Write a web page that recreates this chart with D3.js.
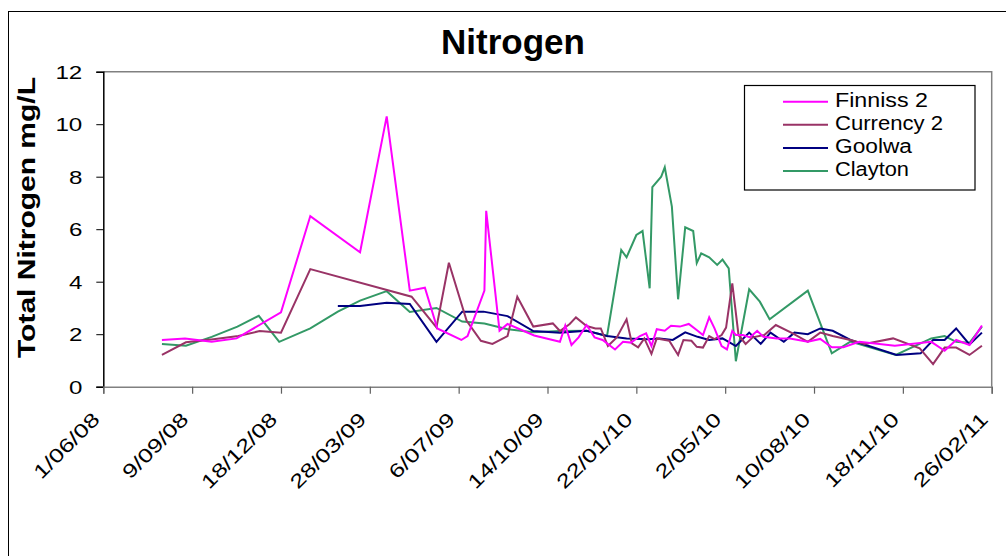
<!DOCTYPE html>
<html>
<head>
<meta charset="utf-8">
<script src="https://cdn.jsdelivr.net/npm/d3@7"></script>
<style>
  html, body { margin: 0; padding: 0; background: #fff; }
  svg { display: block; font-family: "Liberation Sans", Arial, sans-serif; }
</style>
</head>
<body>
<svg id="chart" width="1006" height="556"></svg>
<script>
// ---- data (dd/mm/yyyy sample dates, total nitrogen mg/L) ----
const seriesNames = ["Finniss 2", "Currency 2", "Goolwa", "Clayton"];
const seriesColors = ["#FF00FF", "#993366", "#000080", "#339966"];

const finnissDates = ["06/08/2008","01/09/2008","01/10/2008","29/10/2008","18/12/2008","20/01/2009","17/03/2009","16/04/2009","12/05/2009","29/05/2009","12/06/2009","09/07/2009","16/07/2009","04/08/2009","06/08/2009","21/08/2009","30/08/2009","29/09/2009","28/10/2009","03/11/2009","10/11/2009","18/11/2009","27/11/2009","06/12/2009","15/12/2009","29/12/2009","07/01/2010","16/01/2010","26/01/2010","02/02/2010","08/02/2010","14/02/2010","23/02/2010","02/03/2010","12/03/2010","22/03/2010","01/04/2010","07/04/2010","14/04/2010","20/04/2010","28/04/2010","04/05/2010","10/05/2010","14/05/2010","22/05/2010","30/05/2010","07/06/2010","14/06/2010","29/06/2010","14/07/2010","03/08/2010","17/08/2010","30/08/2010","12/09/2010","20/09/2010","30/09/2010","09/11/2010","20/12/2010","04/01/2011","17/01/2011","01/02/2011","15/02/2011"];
const finnissValues = [1.78,1.84,1.71,1.84,2.83,6.50,5.12,10.3,3.66,3.77,2.22,1.78,1.93,3.66,6.70,2.13,2.39,1.95,1.71,2.33,1.59,1.88,2.35,1.88,1.78,1.42,1.71,1.68,1.93,2.03,1.55,2.19,2.13,2.32,2.29,2.39,2.13,1.97,2.64,2.22,1.55,1.42,2.13,1.97,1.97,1.88,2.13,1.90,1.84,1.84,1.71,1.82,1.50,1.50,1.60,1.71,1.56,1.71,1.37,1.78,1.59,2.33];

const currencyDates = ["06/08/2008","02/09/2008","03/10/2008","31/10/2008","24/11/2008","18/12/2008","20/01/2009","14/05/2009","11/06/2009","25/06/2009","15/07/2009","31/07/2009","13/08/2009","30/08/2009","10/09/2009","28/09/2009","20/10/2009","28/10/2009","08/11/2009","15/11/2009","27/11/2009","07/12/2009","13/12/2009","21/12/2009","31/12/2009","11/01/2010","17/01/2010","24/01/2010","31/01/2010","08/02/2010","14/02/2010","28/02/2010","10/03/2010","16/03/2010","25/03/2010","31/03/2010","07/04/2010","14/04/2010","20/04/2010","28/04/2010","03/05/2010","10/05/2010","17/05/2010","25/05/2010","02/06/2010","15/06/2010","28/06/2010","17/07/2010","03/08/2010","17/08/2010","31/08/2010","20/09/2010","06/10/2010","07/11/2010","07/12/2010","22/12/2010","04/01/2011","17/01/2011","01/02/2011","15/02/2011"];
const currencyValues = [1.21,1.69,1.81,1.93,2.12,2.06,4.48,3.43,2.26,4.72,2.51,1.75,1.63,1.93,3.43,2.29,2.41,2.12,2.39,2.64,2.31,2.22,2.22,1.55,1.88,2.57,1.65,1.50,1.84,1.25,1.84,1.75,1.21,1.78,1.75,1.52,1.49,1.93,1.81,1.97,2.25,3.94,1.97,1.63,1.88,1.97,2.35,2.03,1.71,2.06,1.93,1.78,1.63,1.84,1.46,0.86,1.49,1.49,1.21,1.56];

const goolwaDates = ["20/02/2009","17/03/2009","16/04/2009","12/05/2009","11/06/2009","10/07/2009","03/08/2009","30/08/2009","28/09/2009","28/10/2009","27/11/2009","20/12/2009","11/01/2010","04/02/2010","17/02/2010","04/03/2010","18/03/2010","01/04/2010","14/04/2010","29/04/2010","14/05/2010","29/05/2010","11/06/2010","22/06/2010","07/07/2010","19/07/2010","03/08/2010","17/08/2010","31/08/2010","20/09/2010","11/11/2010","08/12/2010","22/12/2010","04/01/2011","17/01/2011","01/02/2011","15/02/2011"];
const goolwaValues = [3.07,3.07,3.20,3.15,1.71,2.86,2.86,2.69,2.12,2.06,2.13,1.93,1.84,1.81,1.84,1.78,2.07,1.90,1.78,1.84,1.55,2.06,1.63,2.06,1.71,2.06,2.00,2.22,2.13,1.78,1.21,1.27,1.78,1.78,2.22,1.61,2.06];

const claytonDates = ["06/08/2008","02/09/2008","01/10/2008","30/10/2008","23/11/2008","16/12/2008","20/01/2009","20/02/2009","17/03/2009","16/04/2009","12/05/2009","11/06/2009","10/07/2009","04/08/2009","30/08/2009","28/09/2009","28/10/2009","27/11/2009","20/12/2009","05/01/2010","11/01/2010","22/01/2010","29/01/2010","06/02/2010","09/02/2010","19/02/2010","23/02/2010","03/03/2010","10/03/2010","18/03/2010","27/03/2010","31/03/2010","05/04/2010","14/04/2010","23/04/2010","29/04/2010","06/05/2010","14/05/2010","29/05/2010","10/06/2010","21/06/2010","03/08/2010","30/08/2010","20/09/2010","10/11/2010","20/12/2010","04/01/2011","17/01/2011","01/02/2011","15/02/2011"];
const claytonValues = [1.63,1.56,1.90,2.29,2.70,1.71,2.22,2.86,3.28,3.64,2.85,3.00,2.48,2.41,2.19,2.07,2.12,2.13,1.93,5.21,4.93,5.78,5.93,3.75,7.60,8.00,8.36,6.86,3.33,6.07,5.93,4.71,5.08,4.93,4.64,4.84,4.51,0.97,3.71,3.24,2.57,3.66,1.27,1.72,1.21,1.84,1.93,1.71,1.67,2.29];

const xTickLabels = ["1/06/08","9/09/08","18/12/08","28/03/09","6/07/09","14/10/09","22/01/10","2/05/10","10/08/10","18/11/10","26/02/11"];
const yTickValues = [0, 2, 4, 6, 8, 10, 12];

// ---- layout ----
const svg = d3.select("#chart");
const plot = { left: 103.3, right: 991.7, top: 71.7, bottom: 386.7 };
const parseDate = d3.utcParse("%d/%m/%Y");
const parseTick = d3.utcParse("%d/%m/%y");
const tickDates = xTickLabels.map(parseTick);

const x = d3.scaleUtc()
  .domain([tickDates[0], tickDates[tickDates.length - 1]])
  .range([plot.left, plot.right]);
const y = d3.scaleLinear().domain([0, 12]).range([plot.bottom, plot.top]);

// widen text along its baseline by factor k
function stretch(sel, k) {
  sel.each(function () {
    const w = this.getComputedTextLength();
    this.setAttribute("textLength", (w * k).toFixed(1));
    this.setAttribute("lengthAdjust", "spacingAndGlyphs");
  });
}

// outer chart frame
svg.append("rect")
  .attr("x", 8.5).attr("y", 11.5).attr("width", 1020).attr("height", 560)
  .attr("fill", "none").attr("stroke", "#000").attr("stroke-width", 1);

// plot border (top and right)
svg.append("path")
  .attr("d", `M${plot.left},${plot.top}H${plot.right}V${plot.bottom}`)
  .attr("fill", "none").attr("stroke", "#808080").attr("stroke-width", 1.5);

// title
svg.append("text")
  .attr("x", 513).attr("y", 53.5)
  .attr("text-anchor", "middle")
  .attr("font-size", 35).attr("font-weight", "bold").attr("fill", "#000")
  .text("Nitrogen");

// y axis label
const yLabel = svg.append("text")
  .attr("transform", "translate(35,217.5) rotate(-90)")
  .attr("text-anchor", "middle")
  .attr("font-size", 23).attr("font-weight", "bold").attr("fill", "#000")
  .text("Total Nitrogen mg/L");
yLabel.attr("textLength", 281).attr("lengthAdjust", "spacingAndGlyphs");

// y axis
const yAxis = svg.append("g")
  .attr("transform", `translate(${plot.left},0)`)
  .call(d3.axisLeft(y).tickValues(yTickValues).tickSize(7).tickPadding(0).tickFormat(d3.format("d")));
yAxis.select(".domain").attr("stroke", "#000").attr("stroke-width", 1.5);
yAxis.selectAll(".tick line").attr("stroke", "#000").attr("stroke-width", 1);
yAxis.selectAll(".tick text")
  .attr("x", -21).attr("dy", "0.36em")
  .attr("font-size", 18.6).attr("fill", "#000")
  .attr("font-family", "Liberation Sans, Arial, sans-serif")
  .call(stretch, 1.3);

// x axis
const xAxis = svg.append("g")
  .attr("transform", `translate(0,${plot.bottom})`)
  .call(d3.axisBottom(x).tickValues(tickDates).tickSize(7).tickFormat((d, i) => xTickLabels[i]));
xAxis.select(".domain").attr("stroke", "#808080").attr("stroke-width", 1.5);
xAxis.selectAll(".tick line").attr("stroke", "#606060").attr("stroke-width", 1.2);
xAxis.selectAll(".tick text")
  .attr("y", 0).attr("dy", 0)
  .attr("transform", "translate(-3,34) rotate(-45)")
  .attr("text-anchor", "end")
  .attr("font-size", 19.5).attr("fill", "#000")
  .attr("font-family", "Liberation Sans, Arial, sans-serif")
  .call(stretch, 1.29);

// series lines
const allSeries = [
  { dates: finnissDates, values: finnissValues },
  { dates: currencyDates, values: currencyValues },
  { dates: goolwaDates, values: goolwaValues },
  { dates: claytonDates, values: claytonValues }
];
const line = d3.line().x(d => x(d.date)).y(d => y(d.value));
const drawOrder = [3, 2, 1, 0];
drawOrder.forEach(i => {
  const s = allSeries[i];
  const pts = s.dates.map((d, j) => ({ date: parseDate(d), value: s.values[j] }));
  svg.append("path")
    .datum(pts)
    .attr("d", line)
    .attr("fill", "none")
    .attr("stroke", seriesColors[i])
    .attr("stroke-width", 2)
    .attr("stroke-linejoin", "miter");
});

// legend
const legendTextWidths = [93, 108, 77, 74];
const legend = svg.append("g");
legend.append("rect")
  .attr("x", 744.5).attr("y", 85.5).attr("width", 230.5).attr("height", 104.5)
  .attr("fill", "#fff").attr("stroke", "#000").attr("stroke-width", 1.2);
seriesNames.forEach((name, i) => {
  const cy = 101.7 + i * 23.1;
  legend.append("line")
    .attr("x1", 783).attr("x2", 828).attr("y1", cy).attr("y2", cy)
    .attr("stroke", seriesColors[i]).attr("stroke-width", 2);
  legend.append("text")
    .attr("x", 835).attr("y", cy + 4.8)
    .attr("font-size", 20).attr("fill", "#000")
    .attr("textLength", legendTextWidths[i]).attr("lengthAdjust", "spacingAndGlyphs")
    .text(name);
});
</script>
</body>
</html>
